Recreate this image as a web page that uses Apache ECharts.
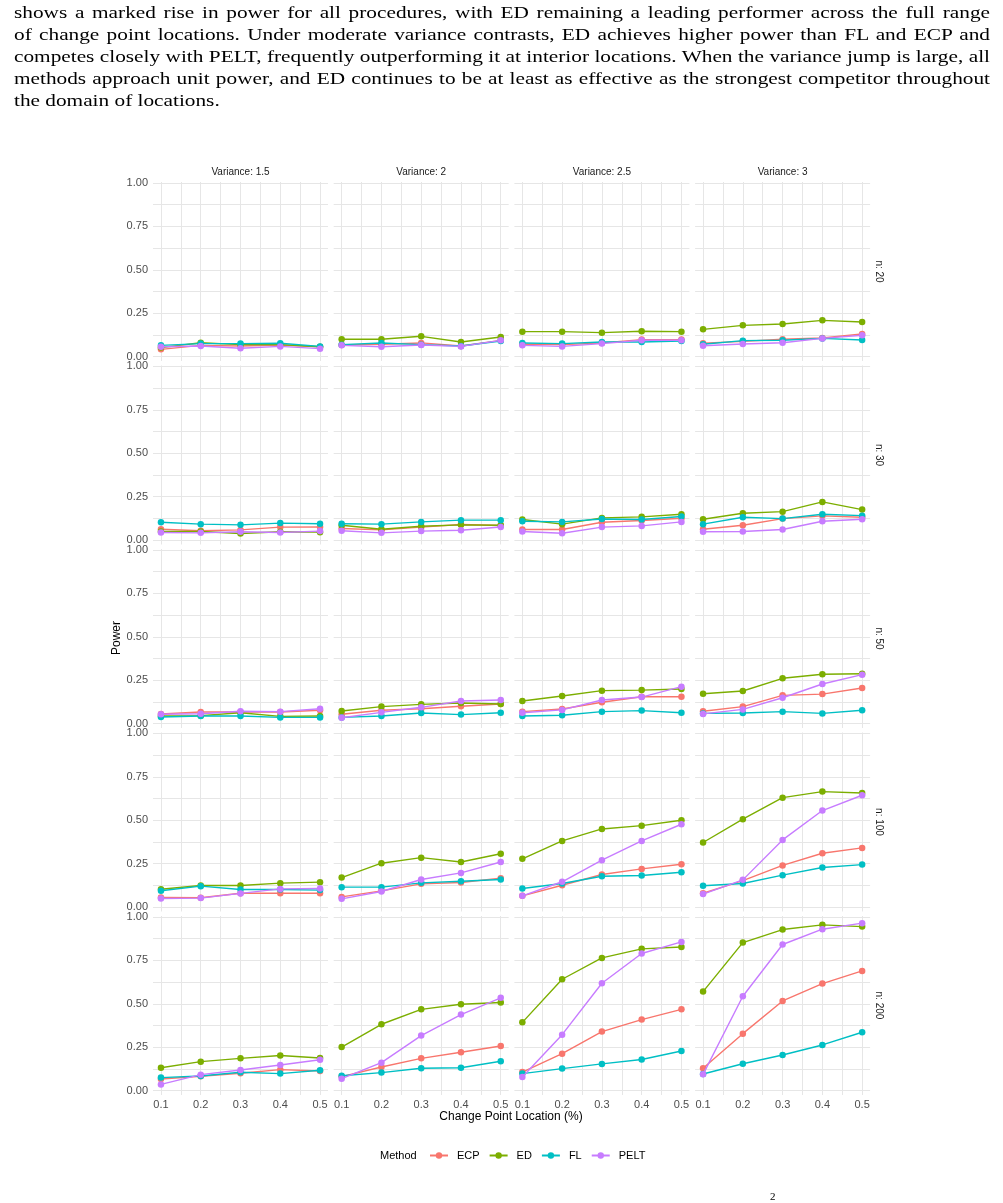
<!DOCTYPE html>
<html>
<head>
<meta charset="utf-8">
<script src="https://cdn.jsdelivr.net/npm/echarts@6/dist/echarts.min.js"></script>
<style>
	body { margin: 0; background: #fff; }
	#page { position: relative; width: 1003px; height: 1203px; overflow: hidden; }
	#chart { position: absolute; left: 0; top: 0; width: 1003px; height: 1203px; }
	#text {
		position: absolute; left: 14px; top: 1px; width: 976px;
		font-family: "Liberation Serif", "Times New Roman", serif;
		font-size: 17.5px; line-height: 22px; color: #000;
		transform-origin: 0 0;
	}
	#text .j { text-align: justify; text-align-last: justify; }
	#frag { position: absolute; left: 770px; top: 1190px; font-family: "Liberation Serif", serif; font-size: 11px; }
</style>
</head>
<body>
<div id="page">
	<div id="chart"></div>
	<div id="text">
		<div class="j">shows a marked rise in power for all procedures, with ED remaining a leading performer across the full range</div>
		<div class="j">of change point locations. Under moderate variance contrasts, ED achieves higher power than FL and ECP and</div>
		<div class="j">competes closely with PELT, frequently outperforming it at interior locations. When the variance jump is large, all</div>
		<div class="j">methods approach unit power, and ED continues to be at least as effective as the strongest competitor throughout</div>
		<div>the domain of locations.</div>
	</div>
	<div id="frag">2</div>
</div>
<script>
	// facet labels and axes
	var variances = ['1.5', '2', '2.5', '3'];
	var sizes = ['20', '30', '50', '100', '200'];
	var locations = [0.1, 0.2, 0.3, 0.4, 0.5];
	var methods = ['ECP', 'ED', 'FL', 'PELT'];
	var colors = ['#F8766D', '#7CAE00', '#00BFC4', '#C77CFF'];
	var yTicks = [0, 0.25, 0.5, 0.75, 1];
	var yGrid = [0, 0.125, 0.25, 0.375, 0.5, 0.625, 0.75, 0.875, 1];
	var xGrid = [0.1, 0.15, 0.2, 0.25, 0.3, 0.35, 0.4, 0.45, 0.5];

	// power[n row][variance col] -> values at locations 0.1..0.5
	var ECP = [
		[[0.042, 0.065, 0.061, 0.067, 0.056], [0.067, 0.071, 0.079, 0.061, 0.094], [0.071, 0.069, 0.079, 0.098, 0.098], [0.077, 0.088, 0.100, 0.107, 0.130]],
		[[0.063, 0.054, 0.059, 0.075, 0.076], [0.067, 0.059, 0.075, 0.090, 0.084], [0.061, 0.061, 0.103, 0.113, 0.126], [0.063, 0.086, 0.124, 0.140, 0.132]],
		[[0.056, 0.067, 0.067, 0.067, 0.077], [0.054, 0.077, 0.086, 0.100, 0.113], [0.069, 0.084, 0.123, 0.155, 0.155], [0.071, 0.098, 0.163, 0.170, 0.205]],
		[[0.056, 0.054, 0.080, 0.080, 0.080], [0.059, 0.094, 0.134, 0.142, 0.167], [0.065, 0.126, 0.188, 0.220, 0.247], [0.080, 0.153, 0.240, 0.310, 0.341]],
		[[0.067, 0.083, 0.100, 0.121, 0.113], [0.081, 0.136, 0.186, 0.221, 0.257], [0.107, 0.213, 0.340, 0.409, 0.468], [0.129, 0.328, 0.516, 0.616, 0.689]]
	];
	var ED = [
		[[0.052, 0.080, 0.069, 0.069, 0.057], [0.100, 0.100, 0.117, 0.084, 0.113], [0.144, 0.144, 0.138, 0.146, 0.144], [0.157, 0.180, 0.188, 0.209, 0.199]],
		[[0.050, 0.050, 0.038, 0.048, 0.046], [0.086, 0.063, 0.080, 0.088, 0.086], [0.119, 0.092, 0.128, 0.134, 0.149], [0.120, 0.155, 0.164, 0.220, 0.176]],
		[[0.044, 0.046, 0.063, 0.042, 0.044], [0.073, 0.098, 0.111, 0.119, 0.113], [0.130, 0.159, 0.190, 0.193, 0.199], [0.172, 0.188, 0.261, 0.284, 0.287]],
		[[0.103, 0.125, 0.125, 0.138, 0.144], [0.170, 0.253, 0.285, 0.260, 0.307], [0.278, 0.381, 0.450, 0.469, 0.500], [0.372, 0.506, 0.630, 0.665, 0.657]],
		[[0.132, 0.167, 0.186, 0.202, 0.188], [0.251, 0.382, 0.468, 0.497, 0.507], [0.393, 0.641, 0.764, 0.816, 0.827], [0.570, 0.852, 0.927, 0.954, 0.944]]
	];
	var FL = [
		[[0.065, 0.075, 0.075, 0.077, 0.059], [0.069, 0.079, 0.069, 0.061, 0.090], [0.079, 0.075, 0.084, 0.084, 0.090], [0.071, 0.092, 0.094, 0.105, 0.096]],
		[[0.103, 0.092, 0.088, 0.098, 0.094], [0.094, 0.092, 0.105, 0.115, 0.115], [0.109, 0.105, 0.122, 0.119, 0.136], [0.092, 0.132, 0.124, 0.149, 0.141]],
		[[0.038, 0.044, 0.044, 0.036, 0.036], [0.036, 0.044, 0.061, 0.052, 0.063], [0.044, 0.048, 0.069, 0.075, 0.063], [0.059, 0.061, 0.069, 0.059, 0.077]],
		[[0.094, 0.121, 0.102, 0.102, 0.098], [0.115, 0.115, 0.140, 0.149, 0.159], [0.107, 0.136, 0.178, 0.182, 0.201], [0.123, 0.136, 0.184, 0.228, 0.245]],
		[[0.075, 0.084, 0.106, 0.098, 0.117], [0.086, 0.104, 0.129, 0.132, 0.169], [0.098, 0.127, 0.154, 0.179, 0.228], [0.096, 0.155, 0.205, 0.263, 0.336]]
	];
	var PELT = [
		[[0.057, 0.061, 0.048, 0.059, 0.046], [0.065, 0.057, 0.067, 0.059, 0.094], [0.065, 0.059, 0.075, 0.094, 0.094], [0.063, 0.073, 0.080, 0.105, 0.123]],
		[[0.044, 0.042, 0.048, 0.044, 0.052], [0.054, 0.042, 0.052, 0.057, 0.076], [0.050, 0.040, 0.075, 0.082, 0.105], [0.048, 0.050, 0.061, 0.109, 0.120]],
		[[0.054, 0.057, 0.071, 0.069, 0.086], [0.034, 0.065, 0.094, 0.130, 0.136], [0.063, 0.079, 0.136, 0.153, 0.213], [0.056, 0.082, 0.149, 0.228, 0.282]],
		[[0.050, 0.052, 0.079, 0.105, 0.107], [0.048, 0.090, 0.159, 0.197, 0.260], [0.065, 0.146, 0.270, 0.381, 0.477], [0.075, 0.157, 0.387, 0.556, 0.644]],
		[[0.036, 0.092, 0.119, 0.148, 0.178], [0.069, 0.161, 0.317, 0.438, 0.534], [0.079, 0.322, 0.618, 0.789, 0.856], [0.094, 0.543, 0.841, 0.929, 0.964]]
	];
	var power = [ECP, ED, FL, PELT];

	// stretch the paragraph so the justified lines have the same density as the scan
	var box = document.getElementById('text');
	var rows = box.querySelectorAll('.j');
	var widest = 0;
	rows.forEach(function (el) {
		var probe = document.createElement('span');
		probe.style.whiteSpace = 'nowrap';
		probe.textContent = el.textContent;
		box.appendChild(probe);
		widest = Math.max(widest, probe.getBoundingClientRect().width);
		box.removeChild(probe);
	});
	var k = 974 / widest;
	box.style.width = (976 / k) + 'px';
	box.style.transform = 'scaleX(' + k + ')';

	var chart = echarts.init(document.getElementById('chart'));

	var grids = [], xAxes = [], yAxes = [], series = [], graphics = [];
	var gridLine = { show: true, lineStyle: { color: '#E6E6E6', width: 1 } };

	for (var r = 0; r < sizes.length; r++) {
		for (var c = 0; c < variances.length; c++) {
			var idx = r * variances.length + c;
			grids.push({ left: 153 + c * 180.7, top: 182 + r * 183.5, width: 175, height: 179 });
			xAxes.push({
				gridIndex: idx, type: 'value', min: 0.08, max: 0.52,
				axisLine: { show: false },
				axisTick: { show: false, customValues: xGrid },
				splitLine: gridLine,
				axisLabel: {
					show: r === sizes.length - 1, customValues: locations, margin: 4,
					color: '#4D4D4D', fontSize: 11, fontFamily: 'Liberation Sans',
					formatter: function (v) { return String(v); }
				}
			});
			yAxes.push({
				gridIndex: idx, type: 'value', min: -0.025, max: 1.005,
				axisLine: { show: false },
				axisTick: { show: false, customValues: yGrid },
				splitLine: gridLine,
				axisLabel: {
					show: c === 0, customValues: yTicks, margin: 5,
					color: '#4D4D4D', fontSize: 11, fontFamily: 'Liberation Sans',
					formatter: function (v) { return v.toFixed(2); }
				}
			});
			for (var m = 0; m < methods.length; m++) {
				var vals = power[m][r][c];
				series.push({
					name: methods[m], type: 'line',
					xAxisIndex: idx, yAxisIndex: idx,
					data: locations.map(function (x, i) { return [x, vals[i]]; }),
					symbol: 'circle', symbolSize: 6.5,
					itemStyle: { color: colors[m] },
					lineStyle: { color: colors[m], width: 1.4 },
					z: 2 + m,
					animation: false
				});
			}
		}
	}

	// facet strips
	variances.forEach(function (v, c) {
		graphics.push({
			type: 'text', x: 153 + c * 180.7 + 87.5, y: 172,
			style: { text: 'Variance: ' + v, fill: '#1A1A1A', fontSize: 10, fontFamily: 'Liberation Sans', align: 'center', verticalAlign: 'middle' }
		});
	});
	sizes.forEach(function (n, r) {
		graphics.push({
			type: 'text', x: 879, y: 182 + r * 183.5 + 89.5, rotation: -Math.PI / 2,
			style: { text: 'n: ' + n, fill: '#1A1A1A', fontSize: 10, fontFamily: 'Liberation Sans', align: 'center', verticalAlign: 'middle' }
		});
	});
	graphics.push({
		type: 'text', x: 117, y: 638, rotation: Math.PI / 2,
		style: { text: 'Power', fill: '#000', fontSize: 12, fontFamily: 'Liberation Sans', align: 'center', verticalAlign: 'middle' }
	});
	graphics.push({
		type: 'text', x: 511, y: 1117,
		style: { text: 'Change Point Location (%)', fill: '#000', fontSize: 12, fontFamily: 'Liberation Sans', align: 'center', verticalAlign: 'middle' }
	});
	graphics.push({
		type: 'text', x: 380, y: 1156,
		style: { text: 'Method', fill: '#000', fontSize: 11, fontFamily: 'Liberation Sans', align: 'left', verticalAlign: 'middle' }
	});

	var option = {
		animation: false,
		textStyle: { fontFamily: 'Liberation Sans' },
		grid: grids,
		xAxis: xAxes,
		yAxis: yAxes,
		legend: {
			data: methods, left: 424, top: 1145,
			itemWidth: 18, itemHeight: 8, itemGap: 9,
			textStyle: { color: '#000', fontSize: 11, fontFamily: 'Liberation Sans', padding: [0, 0, 0, 4] }
		},
		graphic: graphics,
		series: series
	};
	chart.setOption(option);
</script>
</body>
</html>
